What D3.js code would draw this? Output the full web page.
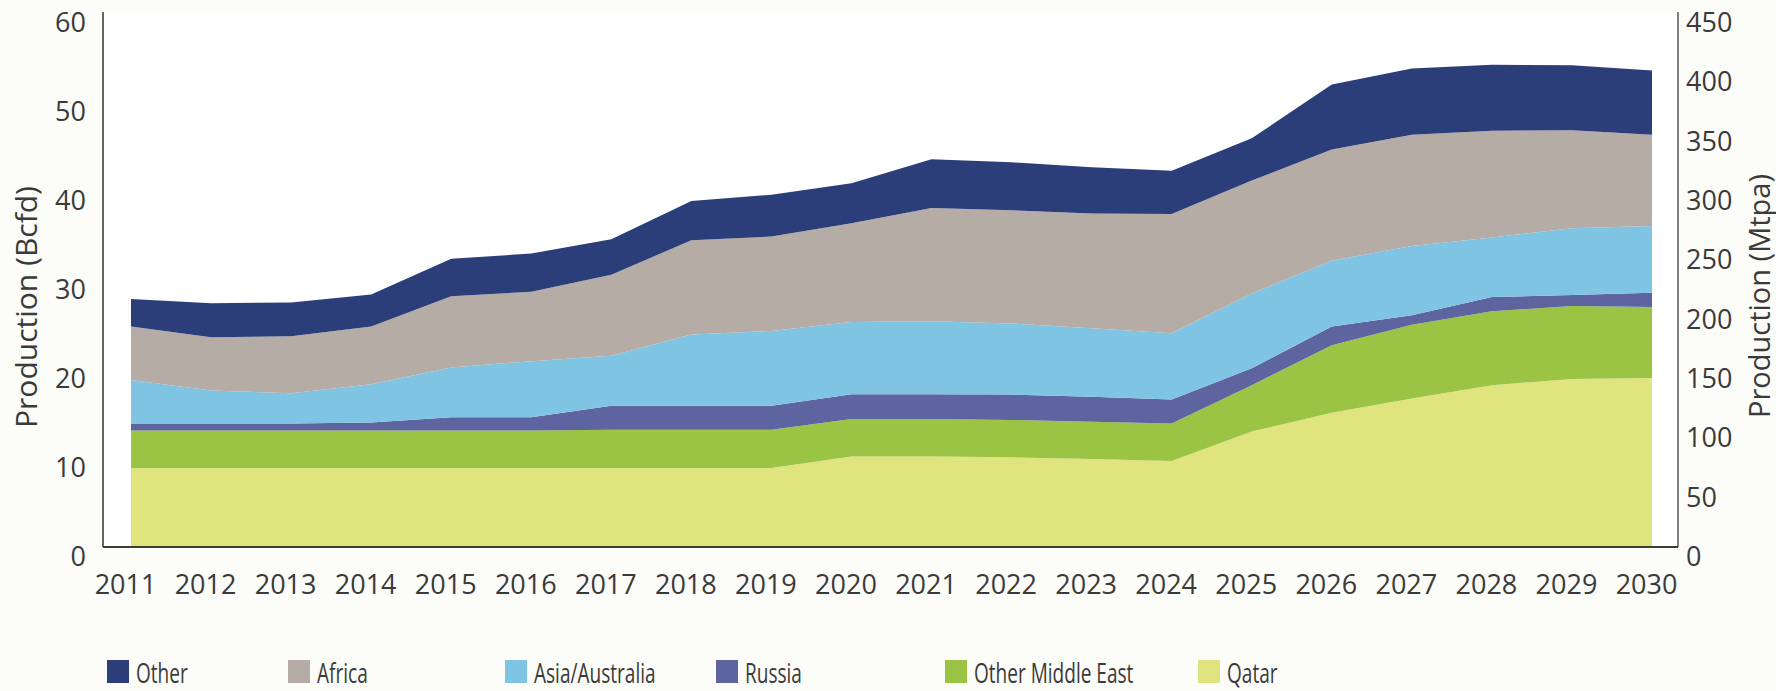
<!DOCTYPE html>
<html>
<head>
<meta charset="utf-8">
<script src="https://cdn.jsdelivr.net/npm/d3@7"></script>
<style>
  body { margin: 0; background: #fcfcf9; }
  text { font-family: "Open Sans", sans-serif; fill: #3a3a3a; }
</style>
</head>
<body>
<div id="chart"></div>
<script>
// data, Bcfd
const years = [2011, 2012, 2013, 2014, 2015, 2016, 2017, 2018, 2019, 2020,
               2021, 2022, 2023, 2024, 2025, 2026, 2027, 2028, 2029, 2030];
const qatar           = [10.0, 10.0, 10.0, 10.0, 10.0, 10.0, 10.0, 10.0, 10.0, 11.3, 11.3, 11.2, 11.0, 10.8, 14.1, 16.2, 17.8, 19.3, 20.0, 20.1];
const otherMiddleEast = [4.2, 4.2, 4.2, 4.2, 4.2, 4.2, 4.3, 4.3, 4.3, 4.2, 4.2, 4.2, 4.2, 4.2, 5.2, 7.6, 8.3, 8.3, 8.2, 8.0];
const russia          = [0.8, 0.8, 0.8, 0.9, 1.5, 1.5, 2.7, 2.7, 2.7, 2.8, 2.8, 2.85, 2.8, 2.7, 1.9, 2.1, 1.05, 1.6, 1.25, 1.6];
const asiaAustralia   = [4.9, 3.7, 3.4, 4.3, 5.6, 6.3, 5.6, 8.0, 8.4, 8.1, 8.2, 8.0, 7.7, 7.45, 8.4, 7.4, 7.8, 6.7, 7.5, 7.5];
const africa          = [6.0, 6.0, 6.4, 6.5, 8.0, 7.8, 9.1, 10.6, 10.6, 11.1, 12.7, 12.7, 12.9, 13.4, 12.7, 12.5, 12.5, 12.0, 11.0, 10.25];
const other           = [3.1, 3.8, 3.8, 3.6, 4.2, 4.3, 4.0, 4.4, 4.7, 4.5, 5.5, 5.4, 5.2, 4.85, 4.75, 7.3, 7.45, 7.4, 7.3, 7.2];

const seriesNames = ["Qatar", "Other Middle East", "Russia", "Asia/Australia", "Africa", "Other"];
const seriesValues = [qatar, otherMiddleEast, russia, asiaAustralia, africa, other];
const seriesColors = ["#dfe47f", "#9bc444", "#5e64a0", "#7fc5e3", "#b4aca5", "#2c3e7a"];
const legendOrder = ["Other", "Africa", "Asia/Australia", "Russia", "Other Middle East", "Qatar"];

const leftTicks = [0, 10, 20, 30, 40, 50, 60];
const rightTicks = [0, 50, 100, 150, 200, 250, 300, 350, 400, 450];

const width = 1776, height = 691;
const frame = {left: 103, right: 1678, top: 12, bottom: 547};

const svg = d3.select("#chart")
  .append("svg")
  .attr("width", width)
  .attr("height", height);

// scales
const x = d3.scaleLinear().domain([2011, 2030]).range([131, 1652]);
const y = d3.scaleLinear().domain([0, 60]).range([557, 23]);
const yR = d3.scaleLinear().domain([0, 450]).range([557, 23]);

// plot background
svg.append("rect")
  .attr("x", frame.left).attr("y", frame.top)
  .attr("width", frame.right - frame.left).attr("height", frame.bottom - frame.top)
  .attr("fill", "#ffffff");

// stacked areas
const table = years.map((yr, i) => {
  const row = {year: yr};
  seriesNames.forEach((k, j) => { row[k] = seriesValues[j][i]; });
  return row;
});
const stacked = d3.stack().keys(seriesNames)(table);

svg.append("clipPath").attr("id", "plotClip")
  .append("rect")
  .attr("x", frame.left).attr("y", 0)
  .attr("width", frame.right - frame.left).attr("height", frame.bottom);

const area = d3.area()
  .x(d => x(d.data.year))
  .y0(d => y(d[0]))
  .y1(d => y(d[1]));

svg.append("g")
  .attr("clip-path", "url(#plotClip)")
  .selectAll("path")
  .data(stacked)
  .join("path")
    .attr("d", area)
    .attr("fill", (d, i) => seriesColors[i]);

// frame lines
svg.append("line")
  .attr("x1", frame.left).attr("x2", frame.left)
  .attr("y1", frame.top).attr("y2", frame.bottom)
  .attr("stroke", "#333").attr("stroke-width", 1.5);
svg.append("line")
  .attr("x1", frame.right).attr("x2", frame.right)
  .attr("y1", frame.top).attr("y2", frame.bottom)
  .attr("stroke", "#555").attr("stroke-width", 1.5);
svg.append("line")
  .attr("x1", frame.left).attr("x2", frame.right)
  .attr("y1", frame.bottom).attr("y2", frame.bottom)
  .attr("stroke", "#3c3c30").attr("stroke-width", 2);

// left axis
const gLeft = svg.append("g")
  .attr("transform", `translate(${frame.left},0)`)
  .call(d3.axisLeft(y).tickValues(leftTicks).tickSize(0).tickPadding(17));
gLeft.select(".domain").remove();

// right axis
const gRight = svg.append("g")
  .attr("transform", `translate(${frame.right},0)`)
  .call(d3.axisRight(yR).tickValues(rightTicks).tickSize(0).tickPadding(8));
gRight.select(".domain").remove();

// bottom axis
const gBottom = svg.append("g")
  .attr("transform", `translate(-6,${frame.bottom})`)
  .call(d3.axisBottom(x).tickValues(years).tickFormat(d3.format("d")).tickSize(0).tickPadding(28));
gBottom.select(".domain").remove();

svg.selectAll(".tick text")
  .attr("font-family", "Open Sans, sans-serif")
  .attr("font-size", 27)
  .attr("fill", "#3a3a3a");

// axis titles
svg.append("text")
  .attr("transform", "translate(25,307) rotate(-90)")
  .attr("text-anchor", "middle")
  .attr("dominant-baseline", "central")
  .attr("font-size", 30)
  .text("Production (Bcfd)");

svg.append("text")
  .attr("transform", "translate(1758,296) rotate(-90)")
  .attr("text-anchor", "middle")
  .attr("dominant-baseline", "central")
  .attr("font-size", 29)
  .text("Production (Mtpa)");

// legend
const legendX = [107, 288, 505, 716, 945, 1198];
const legendY = 671;
const legend = svg.append("g")
  .selectAll("g")
  .data(legendOrder)
  .join("g")
    .attr("transform", (d, i) => `translate(${legendX[i]},${legendY})`);

legend.append("rect")
  .attr("x", 0).attr("y", -11)
  .attr("width", 22).attr("height", 23)
  .attr("fill", d => seriesColors[seriesNames.indexOf(d)]);

legend.append("text")
  .attr("transform", "translate(29,1) scale(0.68,1)")
  .attr("dominant-baseline", "central")
  .attr("font-size", 28)
  .text(d => d);
</script>
</body>
</html>
